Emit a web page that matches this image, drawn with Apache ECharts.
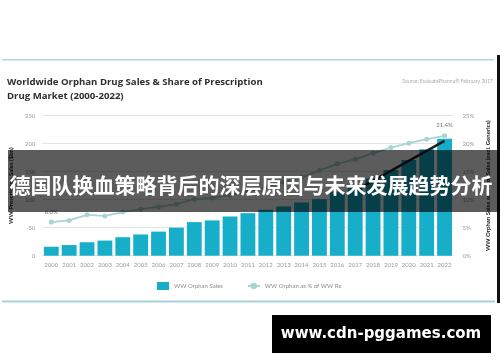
<!DOCTYPE html>
<html>
<head>
<meta charset="utf-8">
<script src="https://cdn.jsdelivr.net/npm/echarts@6/dist/echarts.min.js"></script>
<style>html,body{margin:0;padding:0;background:#fff}#c{width:500px;height:362px}</style>
</head>
<body>
<div id="c"></div>
<script>
var years = ['2000','2001','2002','2003','2004','2005','2006','2007','2008','2009','2010','2011','2012','2013','2014','2015','2016','2017','2018','2019','2020','2021','2022'];
var orphanSales = [16,19,24,27,33,38,43,50,60,63,70,76,82,88,95,101,114,125,138,153,171,190,209];
var orphanShare = [6.0,6.3,7.3,7.1,7.8,8.3,8.7,9.2,10.1,10.3,10.8,11.5,12.3,13.1,14.0,15.2,16.4,17.2,18.3,19.3,20.1,20.8,21.4];
var leftTicks = [0,50,100,150,200,250];
var rightTicks = [0,5,10,15,20,25];
var titleText = 'Worldwide Orphan Drug Sales & Share of Prescription\nDrug Market (2000-2022)';
var sourceText = 'Source: EvaluatePharma\u00ae February 2017';
var bannerText = '德国队换血策略背后的深层原因与未来发展趋势分析';
var watermarkText = 'www.cdn-pggames.com';

var chart = echarts.init(document.getElementById('c'), null, {renderer:'canvas'});
var lblFont = {fontSize:6, color:'#9a9a9a', fontFamily:'Lato, sans-serif'};
var shareData = orphanShare.map(function(v,i){
  var d = {value:v};
  if (i===0 || i===orphanShare.length-1) {
    d.label = {show:true, position:'top', distance:5, formatter: v.toFixed(1)+'%', fontSize:6, color:'#777', fontFamily:'Lato, sans-serif'};
  }
  return d;
});
chart.setOption({
  animation:false,
  title:{text:titleText, left:2, top:70, textStyle:{fontSize:9.6, fontWeight:'bold', color:'#2e2e2e', lineHeight:14, fontFamily:'"Open Sans", sans-serif'}},
  grid:{left:38.5, right:46.5, top:115.7, bottom:106.3},
  legend:{left:152, top:277, itemGap:24, itemWidth:12, itemHeight:8,
    textStyle:{fontSize:6, color:'#8a8a8a', fontFamily:'Lato, sans-serif'},
    data:[{name:'WW Orphan Sales', icon:'rect', itemStyle:{color:'#16aec9'}}, {name:'WW Orphan as % of WW Rx'}]},
  xAxis:{type:'category', data:years, axisLine:{show:false}, axisTick:{show:false},
    axisLabel:Object.assign({margin:6, interval:0}, lblFont)},
  yAxis:[
    {type:'value', min:0, max:250, interval:50, position:'left',
     name:'WW Prescription Sales ($bn)', nameLocation:'middle', nameGap:26, nameRotate:90,
     nameTextStyle:{fontSize:6, fontWeight:'bold', color:'#222', fontFamily:'Lato, sans-serif'},
     axisLabel:Object.assign({margin:7}, lblFont),
     splitLine:{lineStyle:{color:'#e3e3e3', width:1}}, axisLine:{show:false}, axisTick:{show:false}},
    {type:'value', min:0, max:25, interval:5, position:'right',
     name:'WW Orphan Sales as a % of Sales (excl. Generics)', nameLocation:'middle', nameGap:30, nameRotate:90,
     nameTextStyle:{fontSize:6, fontWeight:'bold', color:'#222', fontFamily:'Lato, sans-serif'},
     axisLabel:Object.assign({margin:9, formatter:'{value}%'}, lblFont),
     splitLine:{show:false}, axisLine:{show:false}, axisTick:{show:false}}
  ],
  series:[
    {name:'WW Orphan Sales', type:'bar', data:orphanSales, barCategoryGap:'17%', itemStyle:{color:'#16aec9'},
     markLine:{silent:true, symbol:['none','arrow'], symbolSize:[0,9], label:{show:false},
       lineStyle:{color:'#1e1e1e', width:2.5, type:'solid'},
       data:[[{coord:['2017',116]},{coord:['2022',205]}]]}},
    {name:'WW Orphan as % of WW Rx', type:'line', yAxisIndex:1, data:shareData, symbol:'circle', symbolSize:5,
     lineStyle:{color:'#a9d4d4', width:1.8}, itemStyle:{color:'#a9d4d4'}, z:5}
  ],
  graphic:[
    {type:'rect', shape:{x:2, y:59, width:492, height:1.5}, style:{fill:'#a6dada'}, z:100},
    {type:'rect', shape:{x:2, y:300.5, width:493, height:2}, style:{fill:'#a3d3d8'}, z:100},
    {type:'rect', shape:{x:497, y:55, width:3, height:248}, style:{fill:'#111'}, z:100},
    {type:'text', x:493, y:79, style:{text:sourceText, align:'right', fontSize:5, fill:'#aaa', fontFamily:'Lato, sans-serif'}, z:100},
    {type:'rect', shape:{x:8, y:150, width:492, height:62}, style:{fill:'rgba(0,0,0,0.64)'}, z:200},
    {type:'text', x:251, y:185, style:{text:bannerText, align:'center', verticalAlign:'middle', fontSize:21, fontWeight:'bold', fill:'#fff', fontFamily:'"Noto Sans CJK SC", sans-serif'}, z:201},
    {type:'rect', shape:{x:272, y:315, width:219, height:38}, style:{fill:'#000'}, z:200},
    {type:'text', x:381, y:334, style:{text:watermarkText, align:'center', verticalAlign:'middle', fontSize:15, fontWeight:'bold', fill:'#fff', fontFamily:'"DejaVu Sans", sans-serif'}, z:201}
  ]
});
</script>
</body>
</html>
